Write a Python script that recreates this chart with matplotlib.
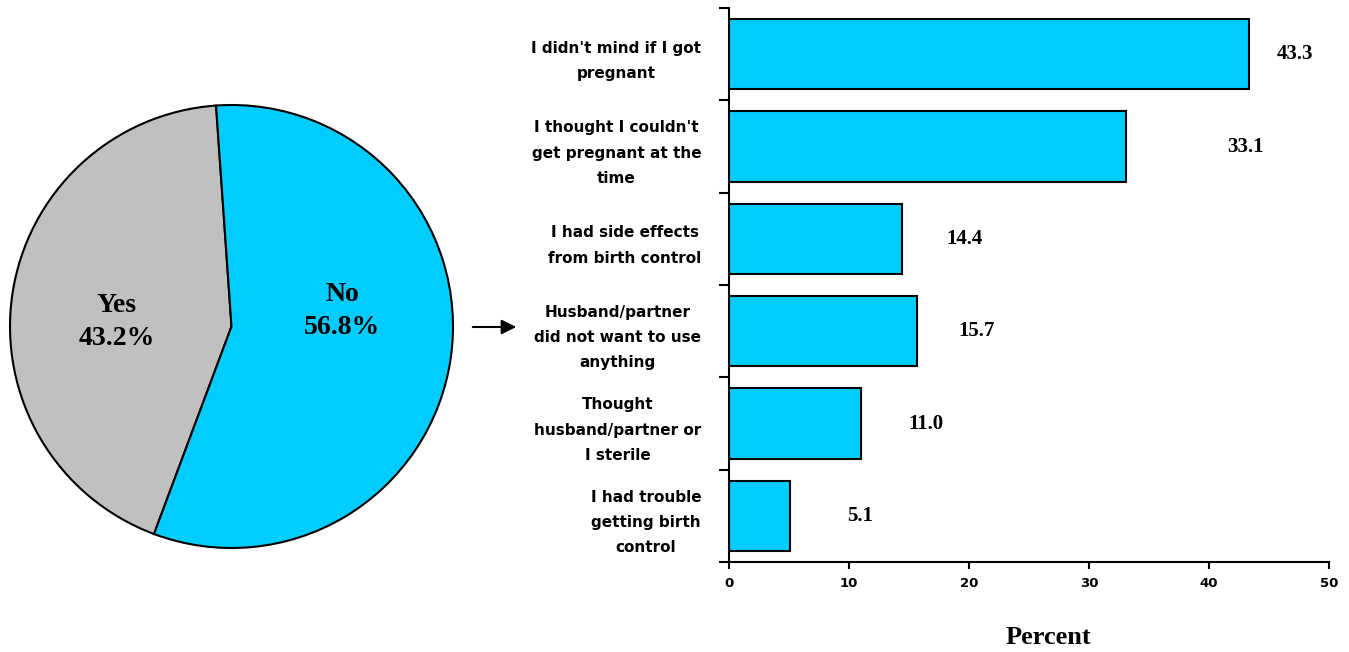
import matplotlib.pyplot as plt
import numpy as np

# datos
pie_labels = ["Yes", "No"]
pie_values = [43.2, 56.8]
pie_colors = ["#C0C0C0", "#00CCFF"]

razones = [
    "I didn't mind if I got\npregnant",
    "I thought I couldn't\nget pregnant at the\ntime",
    "I had side effects\nfrom birth control",
    "Husband/partner\ndid not want to use\nanything",
    "Thought\nhusband/partner or\nI sterile",
    "I had trouble\ngetting birth\ncontrol",
]
porcentajes = [43.3, 33.1, 14.4, 15.7, 11.0, 5.1]
x_ticks = [0, 10, 20, 30, 40, 50]

# desplazamiento de las etiquetas de valor (unidades de datos)
desplaz = [3.9, 9.9, 5.2, 4.9, 5.4, 5.8]

W, H = 1349, 652
fig = plt.figure(figsize=(W / 100, H / 100), dpi=100)

# ---- torta ----
ax_pie = fig.add_axes([10 / W, 1 - 549 / H, 443 / W, 445 / H])
ax_pie.pie(pie_values, colors=pie_colors, startangle=94, counterclock=True,
           wedgeprops=dict(edgecolor="black", linewidth=1.5))
ax_pie.set_xlim(-1, 1)
ax_pie.set_ylim(-1, 1)
ax_pie.set_aspect("equal")
ax_pie.axis("off")

pos_txt = [(-0.52, 0.02), (0.5, 0.07)]
for lab, val, (tx, ty) in zip(pie_labels, pie_values, pos_txt):
    ax_pie.text(tx, ty, f"{lab}\n{val:.1f}%", ha="center", va="center",
                family="Liberation Serif", fontweight="bold", fontsize=20,
                linespacing=1.4)

# ---- barras ----
ax = fig.add_axes([729 / W, 1 - 562 / H, 600 / W, 554 / H])
y = np.arange(len(razones))
ax.barh(y, porcentajes, height=0.76, color="#00CCFF", edgecolor="black",
        linewidth=1.5)
ax.set_ylim(len(razones) - 0.5, -0.5)
ax.set_xlim(0, 50)

for yi, v, d in zip(y, porcentajes, desplaz):
    ax.text(v + d, yi, f"{v:.1f}", ha="center", va="center",
            family="Liberation Serif", fontweight="bold", fontsize=15)

ax.set_yticks(y)
ax.set_yticklabels(razones, family="DejaVu Sans", fontweight="bold",
                   fontsize=11, multialignment="center", linespacing=1.85)
ax.set_yticks(np.arange(-0.5, len(razones), 1), minor=True)
ax.tick_params(axis="y", which="major", length=0, pad=20)
ax.tick_params(axis="y", which="minor", length=7, width=1.5, direction="out")

ax.set_xticks(x_ticks)
ax.set_xticklabels([str(t) for t in x_ticks], family="DejaVu Sans",
                   fontweight="bold", fontsize=9.5)
ax.tick_params(axis="x", length=5, width=1.5, direction="out", pad=6)

for s in ["top", "right"]:
    ax.spines[s].set_visible(False)
for s in ["left", "bottom"]:
    ax.spines[s].set_linewidth(1.5)

ax.set_xlabel("Percent", family="Liberation Serif", fontweight="bold",
              fontsize=19)
ax.xaxis.set_label_coords(0.533, -0.115)

# flecha
fig.patches.append(plt.matplotlib.patches.FancyArrowPatch(
    (470 / W, 1 - 327 / H), (519 / W, 1 - 327 / H),
    transform=fig.transFigure, arrowstyle="-|>", mutation_scale=22,
    color="black", linewidth=1.5))

fig.savefig("out.png", dpi=100)
